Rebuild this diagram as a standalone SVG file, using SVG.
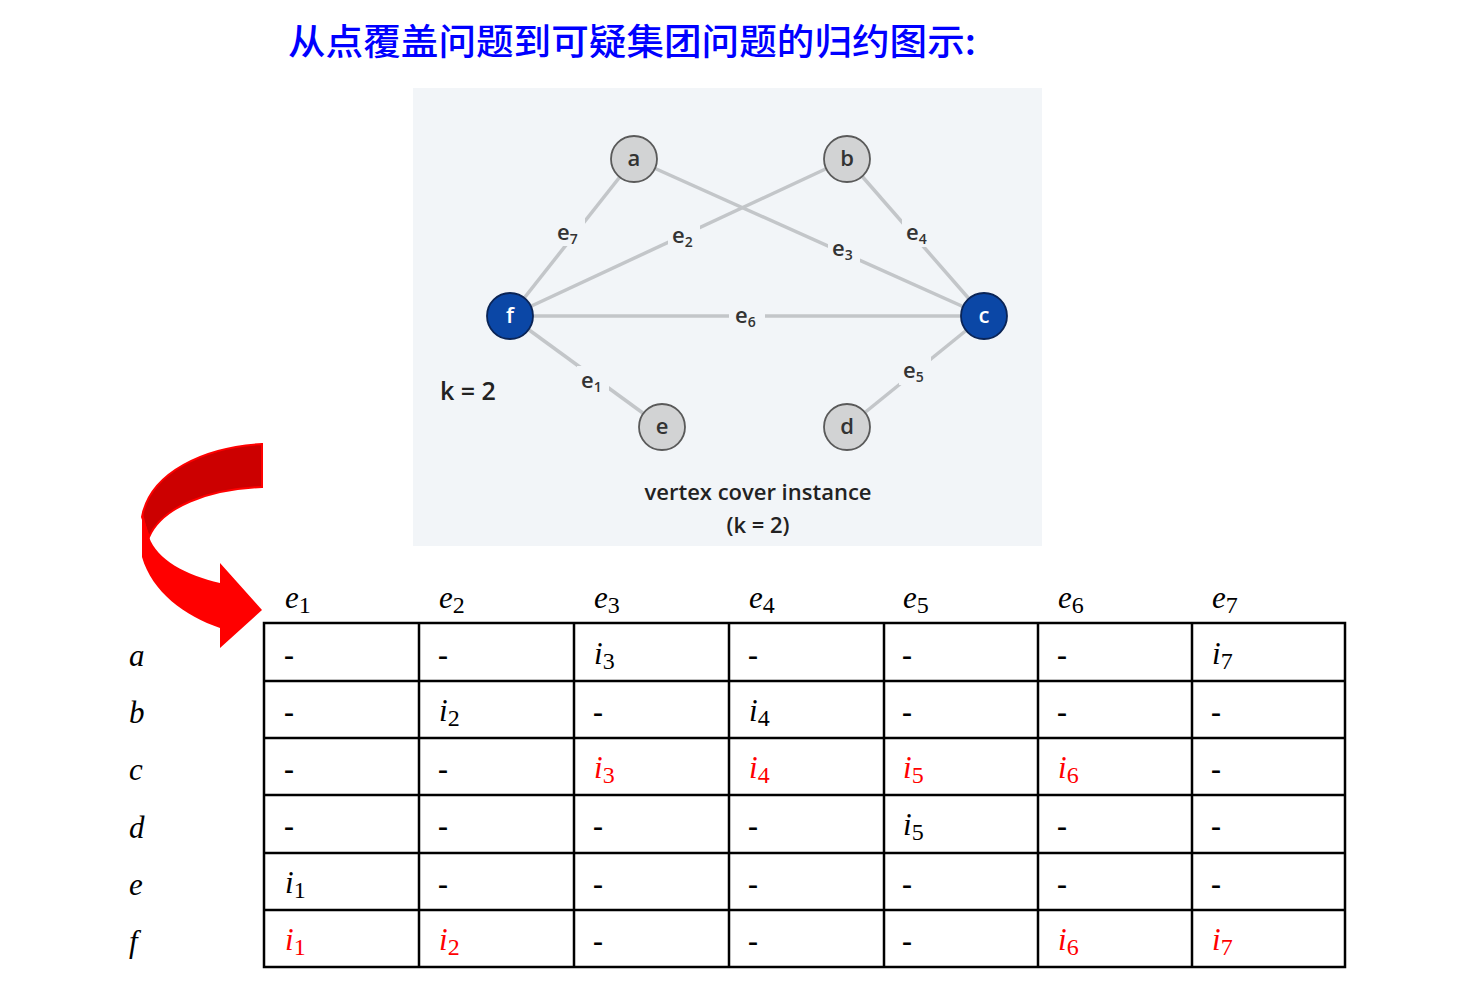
<svg xmlns="http://www.w3.org/2000/svg" width="1469" height="1005" viewBox="0 0 1469 1005">
<style>
.title{font-family:"Noto Sans CJK SC","Noto Sans",sans-serif;font-size:36px;font-weight:500;fill:#0000ff}
.edge{stroke:#c3c6c9;stroke-width:3.5;fill:none}
.el{font-family:"Open Sans","Noto Sans",sans-serif;font-size:22px;font-weight:600;fill:#333}
.el tspan.s{font-size:14px}
.lbg{fill:#f2f5f8}
.gn{fill:#d2d3d4;stroke:#5a5a5a;stroke-width:1.8}
.bn{fill:#0b47a6;stroke:#0a2456;stroke-width:1.8}
.nt{font-family:"Open Sans","Noto Sans",sans-serif;font-size:22px;fill:#333;text-anchor:middle;font-weight:600}
.nw{fill:#fff}
.cap{font-family:"Open Sans","Noto Sans",sans-serif;font-size:22px;font-weight:600;fill:#222;text-anchor:middle}
.grid{stroke:#000;stroke-width:2.5;fill:none}
.m{font-family:"Liberation Serif",serif;font-size:31px;font-style:italic;fill:#000}
.m tspan.s{font-style:normal;font-size:24px}
.d{font-family:"Liberation Serif",serif;font-size:30px;font-weight:bold;fill:#000}
.r{fill:#ff0000}
</style>
<rect width="1469" height="1005" fill="#fff"/>
<text class="title" x="288" y="55" textLength="688" lengthAdjust="spacingAndGlyphs">从点覆盖问题到可疑集团问题的归约图示:</text>

<rect x="413" y="88" width="629" height="458" fill="#f2f5f8"/>

<g id="connectors">
<line class="edge" x1="634" y1="159" x2="510" y2="316"/>
<line class="edge" x1="847" y1="159" x2="510" y2="316"/>
<line class="edge" x1="634" y1="159" x2="984" y2="316"/>
<line class="edge" x1="847" y1="159" x2="984" y2="316"/>
<line class="edge" x1="510" y1="316" x2="984" y2="316"/>
<line class="edge" x1="510" y1="316" x2="662" y2="427"/>
<line class="edge" x1="984" y1="316" x2="847" y2="427"/>
<rect class="lbg" x="553" y="216" width="32" height="30"/>
<text class="el" x="557" y="240">e<tspan class="s" dy="4">7</tspan></text>
<rect class="lbg" x="668" y="219" width="32" height="30"/>
<text class="el" x="672" y="243">e<tspan class="s" dy="4">2</tspan></text>
<rect class="lbg" x="828" y="233" width="32" height="30"/>
<text class="el" x="832" y="256">e<tspan class="s" dy="4">3</tspan></text>
<rect class="lbg" x="902" y="217" width="32" height="30"/>
<text class="el" x="906" y="240">e<tspan class="s" dy="4">4</tspan></text>
<rect class="lbg" x="729" y="301" width="36" height="30"/>
<text class="el" x="735" y="323">e<tspan class="s" dy="4">6</tspan></text>
<rect class="lbg" x="577" y="366" width="32" height="30"/>
<text class="el" x="581" y="388">e<tspan class="s" dy="4">1</tspan></text>
<rect class="lbg" x="899" y="355" width="32" height="30"/>
<text class="el" x="903" y="378">e<tspan class="s" dy="4">5</tspan></text>
</g>

<g id="node-a"><circle class="gn" cx="634" cy="159" r="23"/><text class="nt" x="634" y="166">a</text></g>
<g id="node-b"><circle class="gn" cx="847" cy="159" r="23"/><text class="nt" x="847" y="166">b</text></g>
<g id="node-f"><circle class="bn" cx="510" cy="316" r="23"/><text class="nt nw" x="510" y="323">f</text></g>
<g id="node-c"><circle class="bn" cx="984" cy="316" r="23"/><text class="nt nw" x="984" y="323">c</text></g>
<g id="node-e"><circle class="gn" cx="662" cy="427" r="23"/><text class="nt" x="662" y="434">e</text></g>
<g id="node-d"><circle class="gn" cx="847" cy="427" r="23"/><text class="nt" x="847" y="434">d</text></g>

<text class="cap" x="440" y="400" style="text-anchor:start;font-size:25px">k = 2</text>
<text class="cap" x="758" y="500">vertex cover instance</text>
<text class="cap" x="758" y="533">(k = 2)</text>

<g id="arrow">
<path d="M262,444 C205,447 150,472 142,517 L149,537 C162,507 208,489 262,487 Z" fill="#cc0000" stroke="#ff0000" stroke-width="2"/>
<path d="M142,510 L142,557 C152,592 185,616 220,628 L220,648 L262,610 L220,563 L220,583 C186,575 157,560 149,537 Z" fill="#ff0000"/>
</g>

<g id="table">
<rect class="grid" x="264" y="623" width="1081" height="344"/>
<path class="grid" d="M419,623V967M574,623V967M729,623V967M884,623V967M1038,623V967M1192,623V967M264,681H1345M264,738H1345M264,795H1345M264,853H1345M264,910H1345"/>
<g class="m">
<text x="285" y="608">e<tspan class="s" dy="5">1</tspan></text>
<text x="439" y="608">e<tspan class="s" dy="5">2</tspan></text>
<text x="594" y="608">e<tspan class="s" dy="5">3</tspan></text>
<text x="749" y="608">e<tspan class="s" dy="5">4</tspan></text>
<text x="903" y="608">e<tspan class="s" dy="5">5</tspan></text>
<text x="1058" y="608">e<tspan class="s" dy="5">6</tspan></text>
<text x="1212" y="608">e<tspan class="s" dy="5">7</tspan></text>
<text x="129" y="666">a</text>
<text x="129" y="723">b</text>
<text x="129" y="780">c</text>
<text x="129" y="838">d</text>
<text x="129" y="895">e</text>
<text x="129" y="952">f</text>
</g>
<g class="d">
<text x="284" y="665">-</text><text x="438" y="665">-</text><text x="748" y="665">-</text><text x="902" y="665">-</text><text x="1057" y="665">-</text>
<text x="284" y="722">-</text><text x="593" y="722">-</text><text x="902" y="722">-</text><text x="1057" y="722">-</text><text x="1211" y="722">-</text>
<text x="284" y="779">-</text><text x="438" y="779">-</text><text x="1211" y="779">-</text>
<text x="284" y="836">-</text><text x="438" y="836">-</text><text x="593" y="836">-</text><text x="748" y="836">-</text><text x="1057" y="836">-</text><text x="1211" y="836">-</text>
<text x="438" y="894">-</text><text x="593" y="894">-</text><text x="748" y="894">-</text><text x="902" y="894">-</text><text x="1057" y="894">-</text><text x="1211" y="894">-</text>
<text x="593" y="951">-</text><text x="748" y="951">-</text><text x="902" y="951">-</text>
</g>
<g class="m">
<text x="594" y="664">i<tspan class="s" dy="5">3</tspan></text>
<text x="1212" y="664">i<tspan class="s" dy="5">7</tspan></text>
<text x="439" y="721">i<tspan class="s" dy="5">2</tspan></text>
<text x="749" y="721">i<tspan class="s" dy="5">4</tspan></text>
<text class="r" x="594" y="778">i<tspan class="s" dy="5">3</tspan></text>
<text class="r" x="749" y="778">i<tspan class="s" dy="5">4</tspan></text>
<text class="r" x="903" y="778">i<tspan class="s" dy="5">5</tspan></text>
<text class="r" x="1058" y="778">i<tspan class="s" dy="5">6</tspan></text>
<text x="903" y="835">i<tspan class="s" dy="5">5</tspan></text>
<text x="285" y="893">i<tspan class="s" dy="5">1</tspan></text>
<text class="r" x="285" y="950">i<tspan class="s" dy="5">1</tspan></text>
<text class="r" x="439" y="950">i<tspan class="s" dy="5">2</tspan></text>
<text class="r" x="1058" y="950">i<tspan class="s" dy="5">6</tspan></text>
<text class="r" x="1212" y="950">i<tspan class="s" dy="5">7</tspan></text>
</g>
</g>
</svg>
